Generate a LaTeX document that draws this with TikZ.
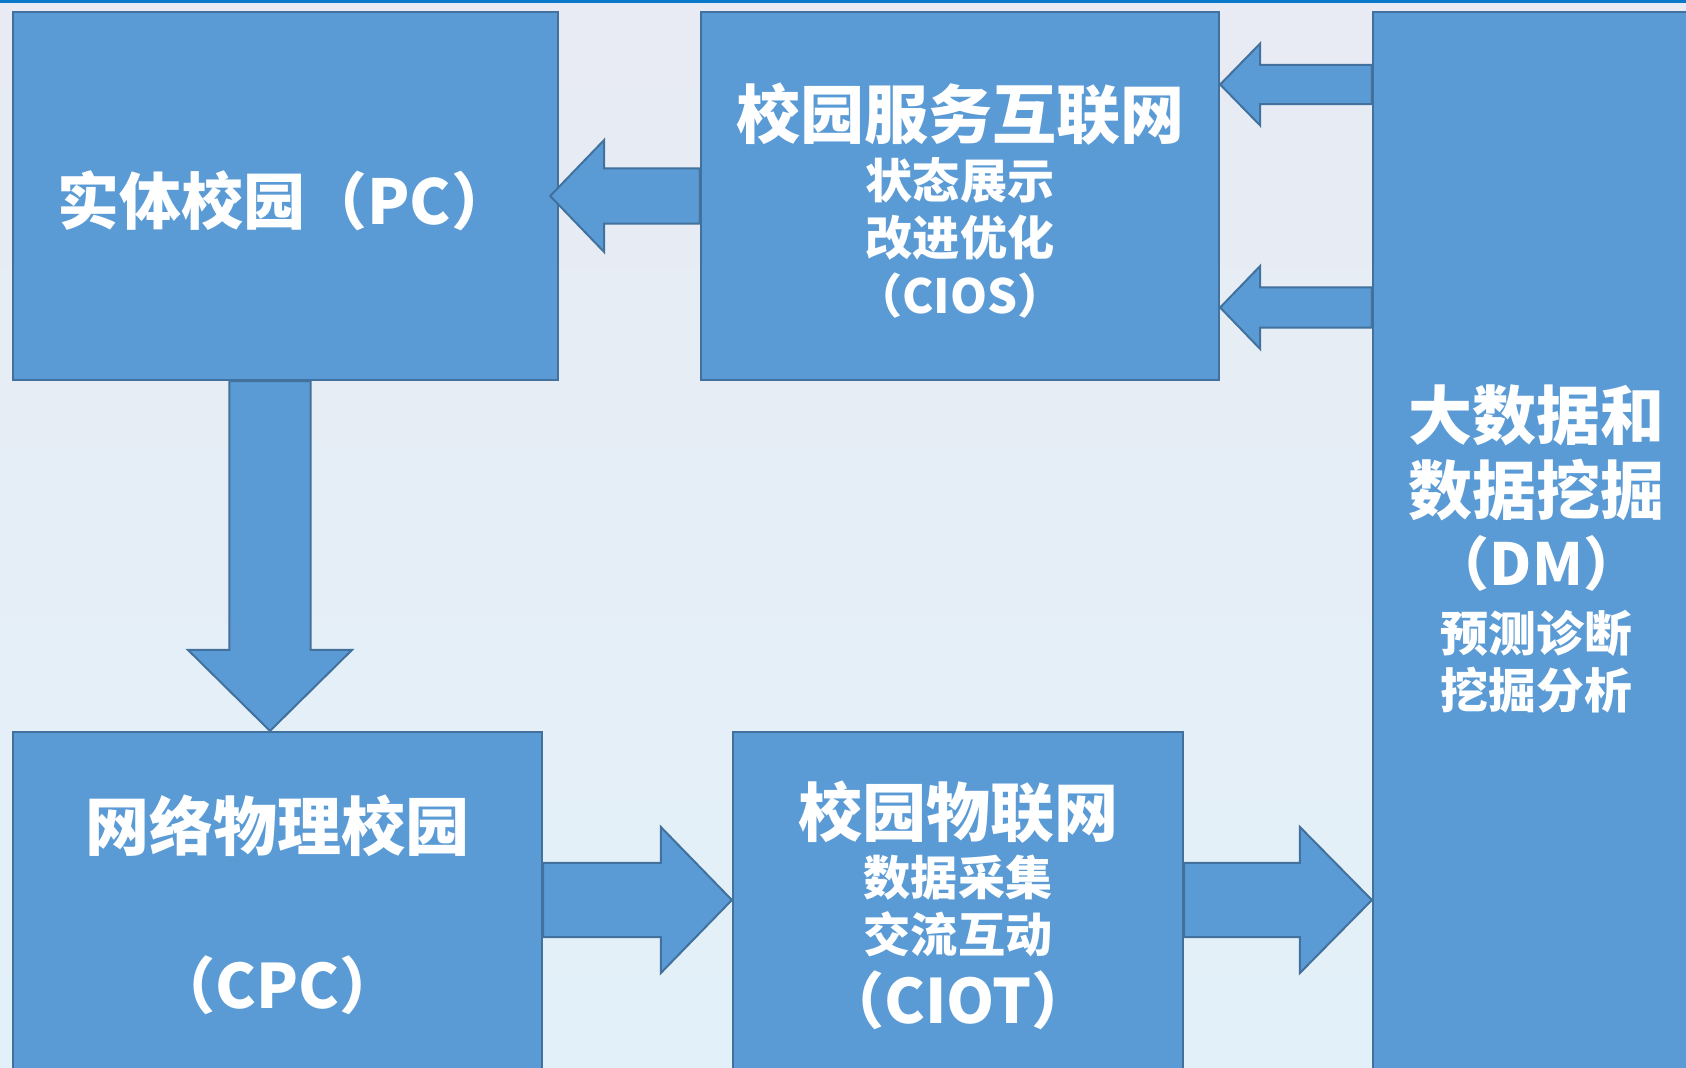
\documentclass[tikz,border=0pt]{standalone}
\usepackage{fontspec}
\newfontfamily\cjk{Noto Sans CJK SC}
\usepackage{tikz}
\usetikzlibrary{calc}

\definecolor{boxblue}{RGB}{91,155,213}
\definecolor{boxline}{RGB}{65,113,156}
\definecolor{bgtop}{RGB}{232,235,243}
\definecolor{bgbot}{RGB}{226,241,249}
\definecolor{topline}{RGB}{10,120,200}

\newcommand{\fs}[2]{\fontsize{#1}{#2}\selectfont}
% block arrow: start, tip, shaft half width, head half width, head length
\newcommand{\fatarrow}[5]{%
  \coordinate (fa-a) at (#1);
  \coordinate (fa-b) at (#2);
  \coordinate (fa-h) at ($(fa-b)!#5!(fa-a)$);
  \draw[blockarrow] ($(fa-a)!#3!90:(fa-b)$) -- ($(fa-h)!#3!-90:(fa-a)$) -- ($(fa-h)!#4!-90:(fa-a)$)
    -- (fa-b) -- ($(fa-h)!#4!90:(fa-a)$) -- ($(fa-h)!#3!90:(fa-a)$) -- ($(fa-a)!#3!-90:(fa-b)$) -- cycle;
}

\begin{document}
\begin{tikzpicture}[x=0.01cm, y=-0.01cm,
    box/.style={draw=boxline, fill=boxblue, line width=0.02cm, text=white, align=center,
      inner sep=0pt, font=\cjk\bfseries\fs{13.4pt}{16.5pt}},
    blockarrow/.style={draw=boxline, fill=boxblue, line width=0.02cm, line join=miter}]

\useasboundingbox (0,0) rectangle (1686,1067);

% Background
\fill[top color=bgtop, bottom color=bgbot] (0,0) rectangle (1686,1067);
\fill[topline] (0,0) rectangle (1686,3);

% Boxes
\node[box, minimum width=5.45cm, minimum height=3.68cm] (pc) at (285.5,196)
  {\fs{17.6pt}{22pt}\rule{0pt}{17.9pt}实体校园（PC）};
\node[box, minimum width=5.18cm, minimum height=3.68cm] (cios) at (960,196)
  {\fs{18.2pt}{22pt}\rule{0pt}{18.3pt}校园服务互联网\\[0.6pt] 状态展示\\[-0.3pt] 改进优化\\ （CIOS）};
\node[box, minimum width=3.27cm, minimum height=10.74cm, font=\cjk\bfseries\fs{13.6pt}{16.5pt}]
  (dm) at (1536.5,549)
  {\fs{18.2pt}{22pt}大数据和\\[2.6pt] \fs{18.2pt}{22pt}数据挖掘\\[3.9pt] \fs{16.5pt}{20pt}（DM）\\[2.3pt]
   预测诊断\\[-0.4pt] 挖掘分析};
\node[box, minimum width=5.29cm, minimum height=3.46cm] (cpc) at (277.5,905)
  {\fs{18.2pt}{22pt}网络物理校园\\[27pt] \fs{17.4pt}{21pt}（CPC）};
\node[box, minimum width=4.50cm, minimum height=3.46cm] (ciot) at (958,905)
  {\fs{18.2pt}{22pt}校园物联网\\[0.5pt] 数据采集\\[-0.3pt] 交流互动\\[3.5pt] \fs{17.4pt}{21pt}（CIOT）};

% Rows and column of the arrows
\coordinate (rowA) at (0,84.5);
\coordinate (rowB) at (0,307.5);
\coordinate (rowC) at (0,900);
\coordinate (colA) at (270,0);

% Block arrows
\fatarrow{cios.west}{$(pc.east)+(-9,0)$}{0.275cm}{0.56cm}{0.54cm}
\fatarrow{pc.south -| colA}{cpc.north -| colA}{0.405cm}{0.82cm}{0.81cm}
\fatarrow{cpc.east |- rowC}{ciot.west |- rowC}{0.37cm}{0.73cm}{0.71cm}
\fatarrow{ciot.east |- rowC}{dm.west |- rowC}{0.37cm}{0.73cm}{0.72cm}
\fatarrow{dm.west |- rowA}{cios.east |- rowA}{0.195cm}{0.41cm}{0.40cm}
\fatarrow{dm.west |- rowB}{cios.east |- rowB}{0.2cm}{0.415cm}{0.40cm}

\end{tikzpicture}
\end{document}
